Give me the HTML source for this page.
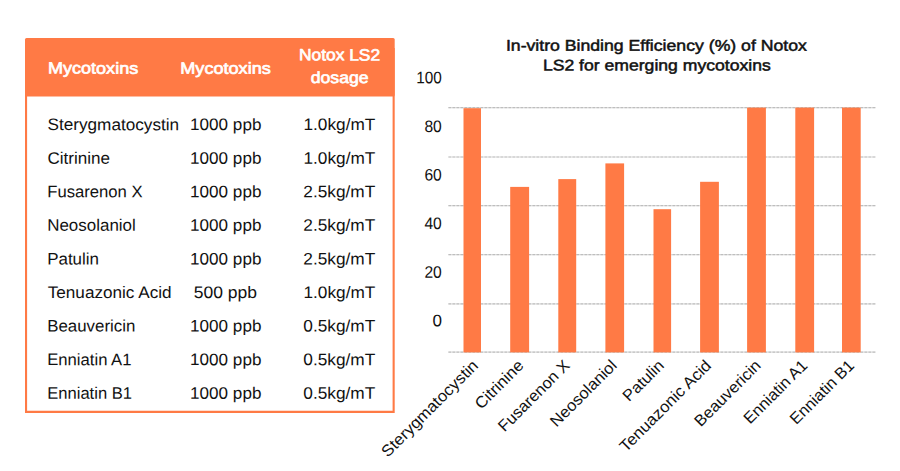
<!DOCTYPE html>
<html lang="en"><head><meta charset="utf-8"><title>Notox LS2 emerging mycotoxins</title>
<style>
html,body{margin:0;padding:0;background:#fff;}
body{width:900px;height:471px;overflow:hidden;position:relative;}
svg{position:absolute;left:0;top:0;display:block;}
text{font-family:"Liberation Sans",Arial,Helvetica,sans-serif;}
.r{font-size:16px;fill:#111111;}
.h{font-size:15.6px;font-weight:400;fill:#fff;stroke:#fff;stroke-width:0.65px;stroke-linejoin:round;}
.t{font-size:16px;font-weight:400;fill:#111111;stroke:#111111;stroke-width:0.5px;stroke-linejoin:round;}
</style></head><body>
<svg width="900" height="471" viewBox="0 0 900 471">
<rect x="0" y="0" width="900" height="471" fill="#ffffff"/>
<polyline points="26.05,48.00 26.05,411.85 393.65,411.85 393.65,48.00" fill="none" stroke="#FF7A45" stroke-width="2.1" stroke-linejoin="miter"/>
<rect x="25.0" y="38.0" width="369.70" height="58.40" rx="1.5" fill="#FF7A45"/>
<text class="h" textLength="90.20" lengthAdjust="spacingAndGlyphs" transform="translate(48.00 73.60) rotate(0.03) scale(1 1.04)">Mycotoxins</text>
<text class="h" textLength="90.50" lengthAdjust="spacingAndGlyphs" transform="translate(180.30 73.70) rotate(0.03) scale(1 1.04)">Mycotoxins</text>
<text class="h" textLength="81.10" lengthAdjust="spacingAndGlyphs" transform="translate(299.00 60.35) rotate(0.03) scale(1 1.04)">Notox LS2</text>
<text class="h" textLength="57.90" lengthAdjust="spacingAndGlyphs" transform="translate(310.70 82.90) rotate(0.03) scale(1 1.04)">dosage</text>
<text class="r" textLength="131.60" lengthAdjust="spacingAndGlyphs" transform="translate(47.50 130.10) rotate(0.03) scale(1 1.04)">Sterygmatocystin</text>
<text class="r" textLength="71.30" lengthAdjust="spacingAndGlyphs" transform="translate(190.10 130.10) rotate(0.03) scale(1 1.04)">1000 ppb</text>
<text class="r" textLength="71.80" lengthAdjust="spacingAndGlyphs" transform="translate(303.50 130.10) rotate(0.03) scale(1 1.04)">1.0kg/mT</text>
<text class="r" textLength="62.60" lengthAdjust="spacingAndGlyphs" transform="translate(47.50 163.68) rotate(0.03) scale(1 1.04)">Citrinine</text>
<text class="r" textLength="71.30" lengthAdjust="spacingAndGlyphs" transform="translate(190.10 163.68) rotate(0.03) scale(1 1.04)">1000 ppb</text>
<text class="r" textLength="71.80" lengthAdjust="spacingAndGlyphs" transform="translate(303.50 163.68) rotate(0.03) scale(1 1.04)">1.0kg/mT</text>
<text class="r" textLength="95.40" lengthAdjust="spacingAndGlyphs" transform="translate(47.20 197.25) rotate(0.03) scale(1 1.04)">Fusarenon X</text>
<text class="r" textLength="71.30" lengthAdjust="spacingAndGlyphs" transform="translate(190.10 197.25) rotate(0.03) scale(1 1.04)">1000 ppb</text>
<text class="r" textLength="72.00" lengthAdjust="spacingAndGlyphs" transform="translate(303.30 197.25) rotate(0.03) scale(1 1.04)">2.5kg/mT</text>
<text class="r" textLength="88.60" lengthAdjust="spacingAndGlyphs" transform="translate(47.20 230.82) rotate(0.03) scale(1 1.04)">Neosolaniol</text>
<text class="r" textLength="71.30" lengthAdjust="spacingAndGlyphs" transform="translate(190.10 230.82) rotate(0.03) scale(1 1.04)">1000 ppb</text>
<text class="r" textLength="72.00" lengthAdjust="spacingAndGlyphs" transform="translate(303.30 230.82) rotate(0.03) scale(1 1.04)">2.5kg/mT</text>
<text class="r" textLength="51.80" lengthAdjust="spacingAndGlyphs" transform="translate(47.20 264.40) rotate(0.03) scale(1 1.04)">Patulin</text>
<text class="r" textLength="71.30" lengthAdjust="spacingAndGlyphs" transform="translate(190.10 264.40) rotate(0.03) scale(1 1.04)">1000 ppb</text>
<text class="r" textLength="72.00" lengthAdjust="spacingAndGlyphs" transform="translate(303.30 264.40) rotate(0.03) scale(1 1.04)">2.5kg/mT</text>
<text class="r" textLength="123.90" lengthAdjust="spacingAndGlyphs" transform="translate(47.70 297.98) rotate(0.03) scale(1 1.04)">Tenuazonic Acid</text>
<text class="r" textLength="63.30" lengthAdjust="spacingAndGlyphs" transform="translate(193.70 297.98) rotate(0.03) scale(1 1.04)">500 ppb</text>
<text class="r" textLength="71.80" lengthAdjust="spacingAndGlyphs" transform="translate(303.50 297.98) rotate(0.03) scale(1 1.04)">1.0kg/mT</text>
<text class="r" textLength="88.10" lengthAdjust="spacingAndGlyphs" transform="translate(47.20 331.55) rotate(0.03) scale(1 1.04)">Beauvericin</text>
<text class="r" textLength="71.30" lengthAdjust="spacingAndGlyphs" transform="translate(190.10 331.55) rotate(0.03) scale(1 1.04)">1000 ppb</text>
<text class="r" textLength="72.00" lengthAdjust="spacingAndGlyphs" transform="translate(303.30 331.55) rotate(0.03) scale(1 1.04)">0.5kg/mT</text>
<text class="r" textLength="84.30" lengthAdjust="spacingAndGlyphs" transform="translate(47.20 365.12) rotate(0.03) scale(1 1.04)">Enniatin A1</text>
<text class="r" textLength="71.30" lengthAdjust="spacingAndGlyphs" transform="translate(190.10 365.12) rotate(0.03) scale(1 1.04)">1000 ppb</text>
<text class="r" textLength="72.00" lengthAdjust="spacingAndGlyphs" transform="translate(303.30 365.12) rotate(0.03) scale(1 1.04)">0.5kg/mT</text>
<text class="r" textLength="84.80" lengthAdjust="spacingAndGlyphs" transform="translate(47.20 398.70) rotate(0.03) scale(1 1.04)">Enniatin B1</text>
<text class="r" textLength="71.30" lengthAdjust="spacingAndGlyphs" transform="translate(190.10 398.70) rotate(0.03) scale(1 1.04)">1000 ppb</text>
<text class="r" textLength="72.00" lengthAdjust="spacingAndGlyphs" transform="translate(303.30 398.70) rotate(0.03) scale(1 1.04)">0.5kg/mT</text>
<text class="t" textLength="301.00" lengthAdjust="spacingAndGlyphs" transform="translate(505.90 50.70) rotate(0.03) scale(1 0.97)">In-vitro Binding Efficiency (%) of Notox</text>
<text class="t" textLength="227.90" lengthAdjust="spacingAndGlyphs" transform="translate(542.90 70.40) rotate(0.03) scale(1 0.97)">LS2 for emerging mycotoxins</text>
<line x1="448.4" y1="107.7" x2="875.6" y2="107.7" stroke="#e8e8e8" stroke-width="1.2"/>
<line x1="448.4" y1="107.7" x2="875.6" y2="107.7" stroke="#bebebe" stroke-width="1.2" stroke-dasharray="2.9 1.1"/>
<line x1="448.4" y1="157.0" x2="875.6" y2="157.0" stroke="#e8e8e8" stroke-width="1.2"/>
<line x1="448.4" y1="157.0" x2="875.6" y2="157.0" stroke="#bebebe" stroke-width="1.2" stroke-dasharray="2.9 1.1"/>
<line x1="448.4" y1="205.6" x2="875.6" y2="205.6" stroke="#e8e8e8" stroke-width="1.2"/>
<line x1="448.4" y1="205.6" x2="875.6" y2="205.6" stroke="#bebebe" stroke-width="1.2" stroke-dasharray="2.9 1.1"/>
<line x1="448.4" y1="254.6" x2="875.6" y2="254.6" stroke="#e8e8e8" stroke-width="1.2"/>
<line x1="448.4" y1="254.6" x2="875.6" y2="254.6" stroke="#bebebe" stroke-width="1.2" stroke-dasharray="2.9 1.1"/>
<line x1="448.4" y1="303.9" x2="875.6" y2="303.9" stroke="#e8e8e8" stroke-width="1.2"/>
<line x1="448.4" y1="303.9" x2="875.6" y2="303.9" stroke="#bebebe" stroke-width="1.2" stroke-dasharray="2.9 1.1"/>
<line x1="448.4" y1="352.2" x2="875.6" y2="352.2" stroke="#e8e8e8" stroke-width="1.2"/>
<line x1="448.4" y1="352.2" x2="875.6" y2="352.2" stroke="#bebebe" stroke-width="1.2" stroke-dasharray="2.9 1.1"/>
<text class="r" textLength="25.60" lengthAdjust="spacingAndGlyphs" transform="translate(416.20 83.30) rotate(0.03) scale(1 1.04)">100</text>
<text class="r" textLength="17.40" lengthAdjust="spacingAndGlyphs" transform="translate(424.40 131.90) rotate(0.03) scale(1 1.04)">80</text>
<text class="r" textLength="17.40" lengthAdjust="spacingAndGlyphs" transform="translate(424.40 180.50) rotate(0.03) scale(1 1.04)">60</text>
<text class="r" textLength="17.40" lengthAdjust="spacingAndGlyphs" transform="translate(424.40 229.10) rotate(0.03) scale(1 1.04)">40</text>
<text class="r" textLength="17.40" lengthAdjust="spacingAndGlyphs" transform="translate(424.40 277.70) rotate(0.03) scale(1 1.04)">20</text>
<text class="r" textLength="9.50" lengthAdjust="spacingAndGlyphs" transform="translate(432.50 326.30) rotate(0.03) scale(1 1.04)">0</text>
<rect x="463.5" y="108.2" width="17.50" height="244.20" fill="#FF7A45"/>
<rect x="510.2" y="186.9" width="18.90" height="165.50" fill="#FF7A45"/>
<rect x="558.3" y="179.1" width="17.90" height="173.30" fill="#FF7A45"/>
<rect x="605.4" y="163.4" width="18.70" height="189.00" fill="#FF7A45"/>
<rect x="653.5" y="209.2" width="17.60" height="143.20" fill="#FF7A45"/>
<rect x="700.1" y="181.8" width="18.80" height="170.60" fill="#FF7A45"/>
<rect x="747.1" y="107.6" width="18.80" height="244.80" fill="#FF7A45"/>
<rect x="795.3" y="107.6" width="18.80" height="244.80" fill="#FF7A45"/>
<rect x="842.0" y="107.6" width="18.70" height="244.80" fill="#FF7A45"/>
<text class="r" x="-129.30" y="0" textLength="129.30" lengthAdjust="spacingAndGlyphs" transform="translate(479.25 366.50) rotate(-45)">Sterygmatocystin</text>
<text class="r" x="-61.50" y="0" textLength="61.50" lengthAdjust="spacingAndGlyphs" transform="translate(524.65 366.50) rotate(-45)">Citrinine</text>
<text class="r" x="-93.44" y="0" textLength="93.44" lengthAdjust="spacingAndGlyphs" transform="translate(570.65 366.50) rotate(-45)">Fusarenon X</text>
<text class="r" x="-86.75" y="0" textLength="86.75" lengthAdjust="spacingAndGlyphs" transform="translate(617.75 366.50) rotate(-45)">Neosolaniol</text>
<text class="r" x="-50.60" y="0" textLength="50.60" lengthAdjust="spacingAndGlyphs" transform="translate(664.90 366.50) rotate(-45)">Patulin</text>
<text class="r" x="-121.93" y="0" textLength="121.93" lengthAdjust="spacingAndGlyphs" transform="translate(712.20 366.50) rotate(-45)">Tenuazonic Acid</text>
<text class="r" x="-86.26" y="0" textLength="86.26" lengthAdjust="spacingAndGlyphs" transform="translate(761.80 366.50) rotate(-45)">Beauvericin</text>
<text class="r" x="-82.53" y="0" textLength="82.53" lengthAdjust="spacingAndGlyphs" transform="translate(808.40 366.50) rotate(-45)">Enniatin A1</text>
<text class="r" x="-83.02" y="0" textLength="83.02" lengthAdjust="spacingAndGlyphs" transform="translate(855.05 366.50) rotate(-45)">Enniatin B1</text>
</svg></body></html>
